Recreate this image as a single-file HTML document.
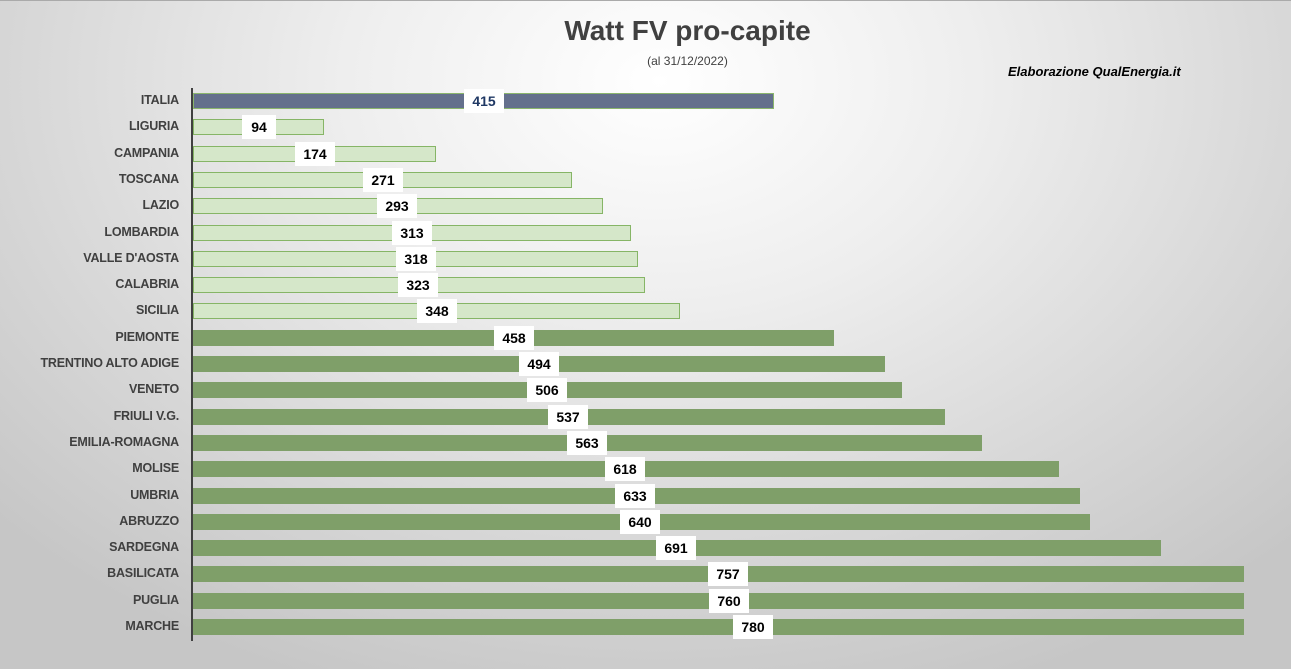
<!DOCTYPE html>
<html><head><meta charset="utf-8"><style>
body{margin:0}
#c{position:relative;width:1291px;height:669px;overflow:hidden;font-family:"Liberation Sans",Arial,sans-serif;
background:radial-gradient(ellipse 900px 650px at 660px 80px,#ffffff 0%,#eeeeee 35%,#d8d8d8 70%,#c6c6c6 100%);
border-top:1px solid #aaa;box-sizing:border-box}
.t{position:absolute;left:0;width:1375px;text-align:center}
.lab{position:absolute;right:1112px;font-weight:bold;font-size:12.5px;color:#404040;text-align:right;white-space:nowrap;letter-spacing:-0.2px}
.bar{position:absolute;left:193px;height:16px;box-sizing:border-box}
.l{background:#d5e7c9;border:1px solid #86b566}
.d{background:#7f9f69}
.v{position:absolute;height:24px;background:#fff;font-weight:bold;font-size:14px;line-height:24px;text-align:center;color:#000}
</style></head><body><div id="c">
<div class="t" style="top:14px;font-size:28px;color:#404040;font-weight:bold;left:0;width:1375px">Watt FV pro-capite</div>
<div class="t" style="top:53px;font-size:12px;color:#404040">(al 31/12/2022)</div>
<div style="position:absolute;left:1008px;top:63px;font-size:13px;font-style:italic;font-weight:bold;color:#000">Elaborazione QualEnergia.it</div>
<div style="position:absolute;left:191px;top:87px;width:2px;height:553px;background:#404040"></div>
<div id="rows"></div>
</div>
<script>
var d=[["ITALIA",415,484,"i"],["LIGURIA",94,259,"l"],["CAMPANIA",174,315,"l"],["TOSCANA",271,383,"l"],["LAZIO",293,397,"l"],["LOMBARDIA",313,412,"l"],["VALLE D'AOSTA",318,416,"l"],["CALABRIA",323,418,"l"],["SICILIA",348,437,"l"],["PIEMONTE",458,514,"d"],["TRENTINO ALTO ADIGE",494,539,"d"],["VENETO",506,547,"d"],["FRIULI V.G.",537,568,"d"],["EMILIA-ROMAGNA",563,587,"d"],["MOLISE",618,625,"d"],["UMBRIA",633,635,"d"],["ABRUZZO",640,640,"d"],["SARDEGNA",691,676,"d"],["BASILICATA",757,728,"d"],["PUGLIA",760,729,"d"],["MARCHE",780,753,"d"]];
var h="";
d.forEach(function(r,i){
 var y=92+i*26.3, w=Math.min(r[1]*1.4024,1052);
 var st=r[3]=="i"?"background:#64708c;border:1px solid #8ab56c":"";
 h+='<div class="lab" style="top:'+(y)+'px">'+r[0]+'</div>';
 h+='<div class="bar '+(r[3]=="i"?"":r[3])+'" style="top:'+y+'px;width:'+(w-1)+'px;'+st+'"></div>';
 var bw=r[1]<100?34:40;
 h+='<div class="v" style="top:'+(y-4)+'px;left:'+(r[2]-bw/2)+'px;width:'+bw+'px;'+(r[3]=="i"?'color:#1f3864;':'')+'">'+r[1]+'</div>';
});
document.getElementById("rows").innerHTML=h;
</script>
</body></html>
